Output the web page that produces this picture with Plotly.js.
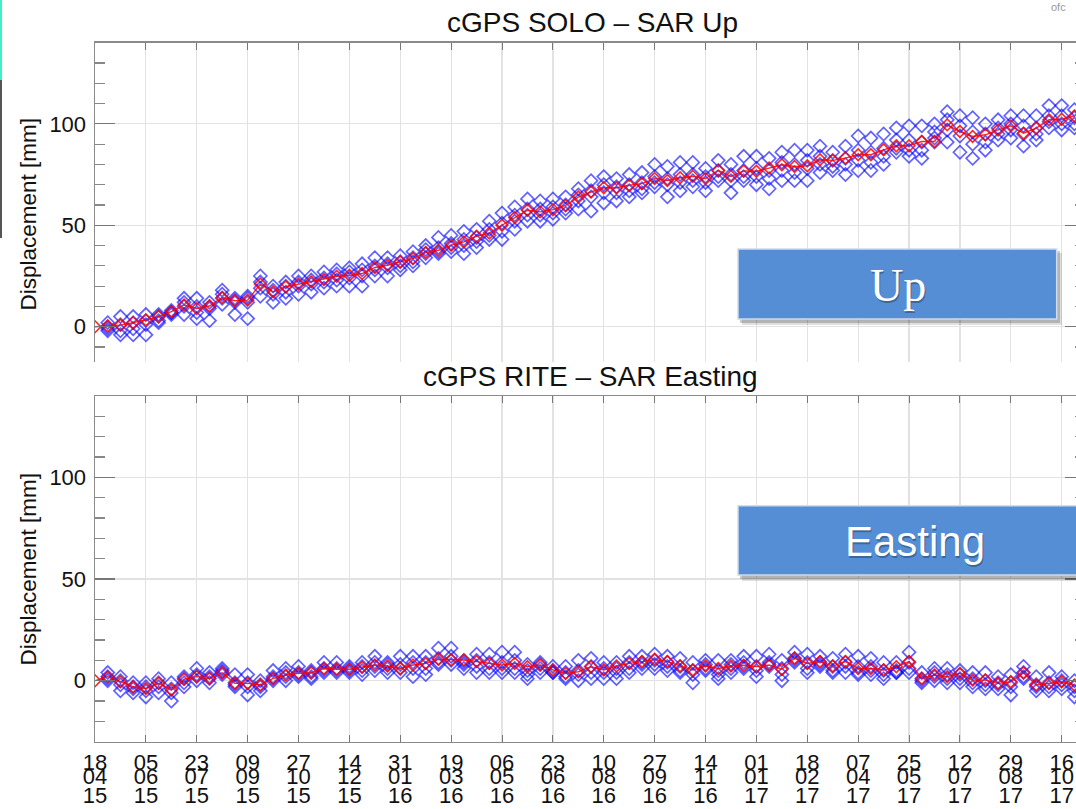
<!DOCTYPE html>
<html><head><meta charset="utf-8">
<script src="https://cdn.plot.ly/plotly-3.0.1.min.js"></script>
<style>html,body{margin:0;padding:0;overflow:hidden;background:#fff;width:1076px;height:809px}#chart{width:1090px;height:809px}</style>
</head><body><div id="chart"></div><script>
// SAR acquisition dates (12-day repeat), first entry is the reference date
var sarDates = ['2015-04-18','2015-04-30','2015-05-12','2015-05-24','2015-06-05','2015-06-17','2015-06-29','2015-07-11','2015-07-23','2015-08-04',
'2015-08-16','2015-08-28','2015-09-09','2015-09-21','2015-10-03','2015-10-15','2015-10-27','2015-11-08','2015-11-20','2015-12-02',
'2015-12-14','2015-12-26','2016-01-07','2016-01-19','2016-01-31','2016-02-12','2016-02-24','2016-03-07','2016-03-19','2016-03-31',
'2016-04-12','2016-04-24','2016-05-06','2016-05-18','2016-05-30','2016-06-11','2016-06-23','2016-07-05','2016-07-17','2016-07-29',
'2016-08-10','2016-08-22','2016-09-03','2016-09-15','2016-09-27','2016-10-09','2016-10-21','2016-11-02','2016-11-14','2016-11-26',
'2016-12-08','2016-12-20','2017-01-01','2017-01-13','2017-01-25','2017-02-06','2017-02-18','2017-03-02','2017-03-14','2017-03-26',
'2017-04-07','2017-04-19','2017-05-01','2017-05-13','2017-05-25','2017-06-06','2017-06-18','2017-06-30','2017-07-12','2017-07-24',
'2017-08-05','2017-08-17','2017-08-29','2017-09-10','2017-09-22','2017-10-04','2017-10-16','2017-10-28'];

var tickDates = ['2015-04-18','2015-06-05','2015-07-23','2015-09-09','2015-10-27','2015-12-14','2016-01-31','2016-03-19','2016-05-06','2016-06-23',
'2016-08-10','2016-09-27','2016-11-14','2017-01-01','2017-02-18','2017-04-07','2017-05-25','2017-07-12','2017-08-29','2017-10-16'];
var tickDays   = ['18','05','23','09','27','14','31','19','06','23','10','27','14','01','18','07','25','12','29','16'];
var tickMonths = ['04','06','07','09','10','12','01','03','05','06','08','09','11','01','02','04','05','07','08','10'];
var tickYears  = ['15','15','15','15','15','15','16','16','16','16','16','16','16','17','17','17','17','17','17','17'];
var xRange = ['2015-04-18','2017-11-07'];

// cGPS SOLO (red) and SAR pixels (blue) - Up [mm]
var upRed = [0,0.3,0.8,2,3.3,5,7.4,10.7,9,10.2,14.4,12.8,13.1,21,17.2,19.7,21,22.1,23.3,24.9,25.4,26.2,29.2,30.3,32,33.6,36.6,37.7,40.2,41.8,44.6,46.2,50,53.8,57.4,56.6,57.7,59.8,63.9,66.4,68.5,68.5,69.7,70.5,73,72.1,73.4,74.1,73,77,74.1,76.8,76.6,78.2,79.8,79,79.3,82.3,82,83.1,84.8,84.8,87.2,89.2,89.2,91.3,91.3,99.5,96.2,93.8,94.6,97,99,95.4,97.9,102,102.3,103.9];
var upB1 = [2,5,5,6,6,8,14,14,12,18,14,15,25,20,22,25,25,27,28,29,31,34,34,35,37,40,44,45,47,48,52,56,59,63,62,63,64,68,72,74,73,75,76,80,79,81,81,78,82,80,84,84,83,86,87,87,89,86,89,94,93,95,98,99,99,100,106,104,103,100,102,104,104,104,109,109,107];
var upB2 = [0,1,2,3,5,7,12,10,10,16,13,14,22,18,20,22,23,24,26,27,28,30,31,32,34,38,39,41,43,44,48,51,55,58,58,59,60,65,67,70,69,70,71,74,73,75,75,74,77,75,77,78,77,81,80,82,84,82,83,87,86,88,92,92,91,96,102,99,96,95,98,100,99,98,104,104,103];
var upB3 = [-2,-2,-1,1,3,7,10,7,9,14,12,12,19,16,17,20,21,22,23,24,25,28,29,30,32,36,37,39,40,42,45,47,52,55,55,56,58,62,64,66,66,67,68,71,70,71,72,71,74,72,74,74,73,77,76,78,80,79,80,82,81,84,88,87,87,93,97,94,90,91,95,97,95,95,101,100,100];
var upB4 = [-1,-4,-4,-4,2,6,6,4,3,11,6,4,15,12,14,16,17,19,20,20,20,25,25,28,30,34,36,37,36,39,43,43,48,52,52,53,56,58,57,61,62,64,66,69,64,67,69,67,72,66,72,70,68,72,72,72,76,77,75,77,77,80,86,84,83,91,91,86,83,87,92,93,89,92,98,97,98];

// cGPS RITE (red) and SAR pixels (blue) - Easting [mm]
var eastRed = [0,2,-0.5,-3,-3.8,-1.3,-4.6,0.7,2,1.1,3.9,-1.3,-1.3,-2.1,1.1,2.8,3.6,3.9,6,5.6,5.6,6.6,7.7,7.2,6,7.7,8.5,10.5,10.2,10.2,9.4,8.5,7.7,8.5,6.9,7.7,5.3,3.6,4.4,6.9,5.3,7.2,8.5,9.4,10.5,9.4,7.2,5.3,7.2,6,7.2,7.6,6.9,7.7,5.6,11,8.5,9.4,7.2,9.4,6,6,5.3,6.9,9.4,1.1,2.8,2,3.6,0.3,0.3,-1.3,-0.5,3.9,-2.1,-1.3,-0.5,-2.1];
var eastB1 = [4,2,-1,-1,1,-1,2,6,4,6,3,3,0,5,6,7,5,9,9,7,9,12,9,12,12,12,16,16,10,13,13,14,14,8,9,7,7,10,11,9,9,12,12,13,12,11,9,10,10,10,12,12,13,10,14,13,12,11,13,12,11,9,9,14,4,6,6,5,4,4,2,3,7,2,4,2,0];
var eastB2 = [2,0,-3,-3,-1,-4,1,3,2,5,-1,-1,-2,2,4,4,4,6,6,6,7,9,8,8,9,9,11,12,9,10,9,9,10,5,8,5,4,5,7,6,6,9,9,10,9,7,5,8,5,8,9,7,9,6,11,9,9,7,9,7,7,5,5,9,1,4,3,3,1,0,-1,-1,4,-2,-1,0,-3];
var eastB3 = [1,-2,-4,-5,-3,-6,-1,2,1,4,-2,-3,-3,1,2,3,2,5,5,5,5,7,6,6,6,6,9,10,8,7,6,6,6,3,6,4,2,3,4,4,4,6,8,8,7,5,3,6,3,6,7,5,8,3,10,6,8,5,7,4,5,3,4,6,0,2,1,1,-1,-2,-2,-3,2,-3,-3,-2,-5];
var eastB4 = [0,-5,-6,-8,-6,-10,-3,0,-1,3,-3,-7,-5,0,0,2,1,4,4,4,3,5,4,4,2,3,8,8,6,4,4,4,4,1,4,4,1,0,1,1,1,4,6,6,5,4,-1,5,1,4,6,2,7,0,9,4,7,4,4,3,3,1,4,4,-1,0,-1,-1,-3,-4,-4,-7,1,-5,-5,-4,-8];

var W = 1090, H = 809;
function px(x){ return x / W; }
function py(y){ return 1 - y / H; }
var xDom = [px(95), px(1085)];
var FONT = 'Liberation Sans, Arial, sans-serif';
var blueCol = 'rgba(0,0,255,0.62)';
var redCol = 'rgba(255,0,0,0.85)';
var blueDates = sarDates.slice(1);

function blueTrace(y, xa, ya){
  return {x: blueDates, y: y, xaxis: xa, yaxis: ya, type: 'scatter', mode: 'markers', hoverinfo: 'skip',
    marker: {symbol: 'diamond-open', size: 10, color: blueCol, line: {width: 1.7}}};
}
function redTrace(y, xa, ya){
  return {x: sarDates, y: y, xaxis: xa, yaxis: ya, type: 'scatter', mode: 'lines+markers', hoverinfo: 'skip',
    line: {color: redCol, width: 1.4},
    marker: {symbol: 'diamond-open', size: 9, color: redCol, line: {width: 1.6}}};
}
// empty holder traces so the month / year label axes get drawn
function holder(xa){
  return {x: [null], y: [null], xaxis: xa, yaxis: 'y2', type: 'scatter', mode: 'markers', hoverinfo: 'skip', marker: {opacity: 0}};
}

var data = [
  blueTrace(upB1,'x','y'), blueTrace(upB2,'x','y'), blueTrace(upB3,'x','y'), blueTrace(upB4,'x','y'), redTrace(upRed,'x','y'),
  blueTrace(eastB1,'x2','y2'), blueTrace(eastB2,'x2','y2'), blueTrace(eastB3,'x2','y2'), blueTrace(eastB4,'x2','y2'), redTrace(eastRed,'x2','y2'),
  holder('x3'), holder('x4')
];

var tickFont = {family: FONT, size: 22, color: '#111'};
var axLine = '#8a8a8a', gridCol = '#e2e2e2';

function yAxis(dom, range, anchor){
  return {domain: dom, anchor: anchor, range: range, tickmode: 'array', tickvals: [0,50,100],
    showline: true, linecolor: axLine, linewidth: 1.5, mirror: 'ticks', ticks: 'inside', ticklen: 20, tickwidth: 1.2, tickcolor: '#777',
    showgrid: true, gridcolor: gridCol, gridwidth: 1.2, zeroline: false, tickfont: tickFont, ticklabelstandoff: 3,
    minor: {dtick: 10, tick0: 0, ticks: 'inside', ticklen: 10, tickwidth: 1.2, tickcolor: '#888', showgrid: false}};
}
function labelAxis(text, linePos){
  return {overlaying: 'x2', anchor: 'free', position: py(linePos), side: 'bottom', type: 'date', range: xRange,
    tickmode: 'array', tickvals: tickDates, ticktext: text,
    showline: false, ticks: '', showgrid: false, zeroline: false, tickfont: tickFont};
}

var layout = {
  width: W, height: H, margin: {l: 0, r: 0, t: 0, b: 0},
  paper_bgcolor: '#fff', plot_bgcolor: '#fff', showlegend: false,
  xaxis: {domain: xDom, anchor: 'y', side: 'top', type: 'date', range: xRange, tickmode: 'array', tickvals: tickDates,
    showticklabels: false, showline: true, linecolor: axLine, linewidth: 1.5, ticks: 'inside', ticklen: 7, tickcolor: '#777',
    showgrid: true, gridcolor: gridCol, gridwidth: 1.2, zeroline: false},
  yaxis: yAxis([py(362), py(42.7)], [-17.4, 140], 'x'),
  xaxis2: {domain: xDom, anchor: 'y2', side: 'bottom', type: 'date', range: xRange, tickmode: 'array', tickvals: tickDates, ticktext: tickDays,
    showline: true, linecolor: axLine, linewidth: 1.5, mirror: 'ticks', ticks: 'inside', ticklen: 7, tickcolor: '#777',
    showgrid: true, gridcolor: gridCol, gridwidth: 1.2, zeroline: false, tickfont: tickFont, ticklabelstandoff: 0},
  xaxis3: labelAxis(tickMonths, 760.5),
  xaxis4: labelAxis(tickYears, 780),
  yaxis2: yAxis([py(741.7), py(396)], [-30, 140], 'x2'),
  shapes: [
    // slide artefacts at the left edge
    {type: 'rect', xref: 'paper', yref: 'paper', x0: px(0), x1: px(2), y0: py(0), y1: py(80), fillcolor: '#3ef0c8', line: {width: 0}, layer: 'above'},
    {type: 'rect', xref: 'paper', yref: 'paper', x0: px(0), x1: px(2), y0: py(80), y1: py(238), fillcolor: '#555', line: {width: 0}, layer: 'above'},
    // "Up" box with shadow
    {type: 'rect', xref: 'paper', yref: 'paper', x0: px(742), x1: px(1062), y0: py(253), y1: py(325), fillcolor: 'rgba(0,0,0,0.12)', line: {width: 0}, layer: 'above'},
    {type: 'rect', xref: 'paper', yref: 'paper', x0: px(740), x1: px(1060), y0: py(251), y1: py(323), fillcolor: 'rgba(0,0,0,0.2)', line: {width: 0}, layer: 'above'},
    {type: 'rect', xref: 'paper', yref: 'paper', x0: px(738), x1: px(1056.7), y0: py(249), y1: py(319), fillcolor: '#558ed5', line: {color: '#cddcf0', width: 1.5}, layer: 'above'},
    // "Easting" box with shadow
    {type: 'rect', xref: 'paper', yref: 'paper', x0: px(742), x1: px(1100), y0: py(509.7), y1: py(581), fillcolor: 'rgba(0,0,0,0.12)', line: {width: 0}, layer: 'above'},
    {type: 'rect', xref: 'paper', yref: 'paper', x0: px(740), x1: px(1100), y0: py(507.7), y1: py(579), fillcolor: 'rgba(0,0,0,0.2)', line: {width: 0}, layer: 'above'},
    {type: 'rect', xref: 'paper', yref: 'paper', x0: px(738), x1: px(1100), y0: py(505.7), y1: py(575), fillcolor: '#558ed5', line: {color: '#cddcf0', width: 1.5}, layer: 'above'}
  ],
  annotations: [
    {text: 'cGPS SOLO \u2013 SAR Up', xref: 'paper', yref: 'paper', x: px(592), y: py(23), xanchor: 'center', yanchor: 'middle', showarrow: false,
      font: {family: FONT, size: 28, color: '#111'}},
    {text: 'cGPS RITE \u2013 SAR Easting', xref: 'paper', yref: 'paper', x: px(590), y: py(376), xanchor: 'center', yanchor: 'middle', showarrow: false,
      font: {family: FONT, size: 28, color: '#111'}},
    {text: 'Displacement [mm]', xref: 'paper', yref: 'paper', x: px(27.5), y: py(214), xanchor: 'center', yanchor: 'middle', textangle: -90, showarrow: false,
      font: {family: FONT, size: 22.5, color: '#111'}},
    {text: 'Displacement [mm]', xref: 'paper', yref: 'paper', x: px(27.5), y: py(569), xanchor: 'center', yanchor: 'middle', textangle: -90, showarrow: false,
      font: {family: FONT, size: 22.5, color: '#111'}},
    {text: 'Up', xref: 'paper', yref: 'paper', x: px(899), y: py(287), xanchor: 'center', yanchor: 'middle', showarrow: false,
      font: {family: 'Liberation Serif, DejaVu Serif, serif', size: 46, color: 'rgba(0,0,0,0.3)'}},
    {text: 'Up', xref: 'paper', yref: 'paper', x: px(897.7), y: py(285.5), xanchor: 'center', yanchor: 'middle', showarrow: false,
      font: {family: 'Liberation Serif, DejaVu Serif, serif', size: 46, color: '#ffffff'}},
    {text: 'Easting', xref: 'paper', yref: 'paper', x: px(916.3), y: py(543), xanchor: 'center', yanchor: 'middle', showarrow: false,
      font: {family: FONT, size: 42, color: 'rgba(0,0,0,0.3)'}},
    {text: 'Easting', xref: 'paper', yref: 'paper', x: px(915), y: py(541.5), xanchor: 'center', yanchor: 'middle', showarrow: false,
      font: {family: FONT, size: 42, color: '#ffffff'}},
    {text: 'ofc', xref: 'paper', yref: 'paper', x: px(1058), y: py(7), xanchor: 'center', yanchor: 'middle', showarrow: false,
      font: {family: FONT, size: 11, color: '#999'}}
  ]
};

Plotly.newPlot('chart', data, layout, {displayModeBar: false, staticPlot: true});
</script></body></html>
